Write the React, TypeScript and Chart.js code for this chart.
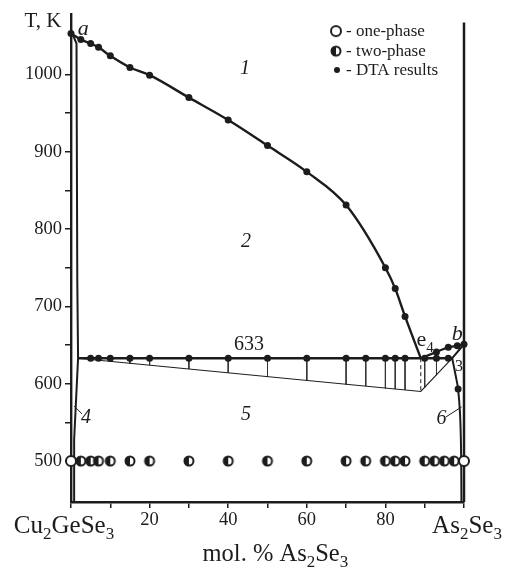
import React, { useEffect, useRef } from 'react';
import { Chart, registerables } from 'chart.js';

Chart.register(...registerables);

const FONT = '"Liberation Serif", "Times New Roman", Times, serif';
const INK = '#1c1c1c';

// ---------- axes ----------
const xMin = 0;
const xMax = 100;
const yMin = 447;
const yMax = 1078;
const xTickValues = [0, 10, 20, 30, 40, 50, 60, 70, 80, 90, 100];
const xTickLabels = ['', '', '20', '', '40', '', '60', '', '80', '', ''];
const yTickValues = [500, 550, 600, 650, 700, 750, 800, 850, 900, 950, 1000];
const yTickLabels = ['500', '', '600', '', '700', '', '800', '', '900', '', '1000'];

// ---------- liquidus (DTA) ----------
const liqX = [0, 2.5, 5, 7, 10, 15, 20, 30, 40, 50, 60, 70, 80, 82.5, 85];
const liqT = [1053, 1045, 1040, 1035, 1024, 1009, 999, 970, 941, 908, 874, 831, 750, 723, 687];
// eutectic point e4
const e4X = 89;
const e4T = 633;
// eutectic horizontal (633 K)
const eutLineX = [1.8, 97];
const eutT = 633;
const eutDtaX = [5, 7, 10, 15, 20, 30, 40, 50, 60, 70, 75, 80, 82.5, 85, 90, 93, 96];
// e4 - b liquidus
const ebX = [89, 93, 96, 98.3, 100];
const ebT = [633, 641, 647, 649, 651];
// b -> solidus corner
const bLineX = [97, 100];
const bLineT = [633, 651];
// As2Se3 solvus curve
const solvX = [97, 97.9, 98.5, 99.0, 99.25, 99.35];
const solvT = [633, 610, 593, 560, 515, 447];
const solvDtaX = [98.5];
const solvDtaT = [593];
// Cu2GeSe3 solid solution boundary
const leftX = [0.3, 1.4, 1.6, 1.8, 0.8, 0.8];
const leftT = [1053, 1040, 733, 633, 528, 447];
// tie triangle under the eutectic line
const tieX = [1.8, 89, 97];
const tieT = [633, 590, 633];
const dashX = [89, 89];
const dashT = [633, 590];
const hatchX = [5, 7, 10, 15, 20, 30, 40, 50, 60, 70, 75, 80, 82.5, 85, 90, 93];
const hatchLowT = [631, 630, 629, 626, 624, 619, 614, 609, 604, 599, 597, 594, 593, 592, 595, 611];
// As2Se3 vertical
const rightX = [100, 100];
const rightT = [447, 1067];
// leader lines for labels 4 and 6
const lead4X = [0.8, 2.8];
const lead4T = [571, 561];
const lead6X = [95.4, 99.4];
const lead6T = [557, 570];
// XRD samples at 500 K
const xrdT = 500;
const onePhaseX = [0, 100];
const twoPhaseX = [2.5, 5, 7, 10, 15, 20, 30, 40, 50, 60, 70, 75, 80, 82.5, 85, 90, 92.5, 95, 97.5];

// ---------- labels ----------
const regionLabels = ['1', '2', '5', '4', '6'];
const regionLabelX = [44.3, 44.5, 44.5, 3.8, 94.3];
const regionLabelT = [1007, 784, 560, 555.5, 555];
const pointLabels = ['a', 'b'];
const pointLabelX = [3.1, 98.3];
const pointLabelT = [1058, 663.5];
const eutLabel = '633';
const eutLabelX = 45.3;
const eutLabelT = 650;
const e4LabelX = 89.2;
const e4LabelT = 656;
const threeLabelX = 98.7;
const threeLabelT = 622;
const legendTexts = ['- one-phase', '- two-phase', '- DTA results'];

type Seg = { t: string; sub?: boolean };
const leftCompound: Seg[] = [{ t: 'Cu' }, { t: '2', sub: true }, { t: 'GeSe' }, { t: '3', sub: true }];
const rightCompound: Seg[] = [{ t: 'As' }, { t: '2', sub: true }, { t: 'Se' }, { t: '3', sub: true }];
const axisTitle: Seg[] = [{ t: 'mol. % As' }, { t: '2', sub: true }, { t: 'Se' }, { t: '3', sub: true }];

const pts = (xs: number[], ts: number[]) => xs.map((x, i) => ({ x, y: ts[i] }));
const flat = (xs: number[], t: number) => xs.map((x) => ({ x, y: t }));

function makeOpen(r: number) {
  const c = document.createElement('canvas');
  const s = Math.ceil(r * 2 + 4);
  c.width = s;
  c.height = s;
  const g = c.getContext('2d')!;
  g.fillStyle = '#fff';
  g.strokeStyle = INK;
  g.lineWidth = 2;
  g.beginPath();
  g.arc(s / 2, s / 2, r, 0, Math.PI * 2);
  g.fill();
  g.stroke();
  return c;
}

function makeHalf(r: number) {
  const c = document.createElement('canvas');
  const s = Math.ceil(r * 2 + 4);
  c.width = s;
  c.height = s;
  const g = c.getContext('2d')!;
  const cx = s / 2;
  const cy = s / 2;
  g.fillStyle = '#fff';
  g.beginPath();
  g.arc(cx, cy, r, 0, Math.PI * 2);
  g.fill();
  g.fillStyle = INK;
  g.beginPath();
  g.arc(cx, cy, r, Math.PI / 2, Math.PI * 1.5);
  g.closePath();
  g.fill();
  g.strokeStyle = INK;
  g.lineWidth = 2;
  g.beginPath();
  g.arc(cx, cy, r - 0.5, 0, Math.PI * 2);
  g.stroke();
  return c;
}

function drawRich(ctx: CanvasRenderingContext2D, segs: Seg[], x: number, baseline: number, size: number, align: 'center' | 'left') {
  const main = `${size}px ${FONT}`;
  const subSize = Math.round(size * 0.68);
  const subF = `${subSize}px ${FONT}`;
  let total = 0;
  for (const s of segs) {
    ctx.font = s.sub ? subF : main;
    total += ctx.measureText(s.t).width;
  }
  let cx = align === 'center' ? x - total / 2 : x;
  ctx.textAlign = 'left';
  ctx.textBaseline = 'alphabetic';
  for (const s of segs) {
    ctx.font = s.sub ? subF : main;
    ctx.fillText(s.t, cx, s.sub ? baseline + size * 0.25 : baseline);
    cx += ctx.measureText(s.t).width;
  }
}

export default function App() {
  const ref = useRef<HTMLCanvasElement | null>(null);

  useEffect(() => {
    document.body.style.margin = '0';
    const canvas = ref.current;
    if (!canvas) return;
    const openImg = makeOpen(5);
    const halfImg = makeHalf(5);

    const labelPlugin = {
      id: 'phaseLabels',
      afterDatasetsDraw(chart: any) {
        const { ctx, chartArea, scales } = chart;
        const px = (v: number) => scales.x.getPixelForValue(v);
        const py = (v: number) => scales.y.getPixelForValue(v);
        ctx.save();
        ctx.fillStyle = INK;
        ctx.textAlign = 'center';
        ctx.textBaseline = 'middle';
        ctx.font = `italic 20px ${FONT}`;
        regionLabels.forEach((t, i) => ctx.fillText(t, px(regionLabelX[i]), py(regionLabelT[i])));
        ctx.font = `italic 22px ${FONT}`;
        pointLabels.forEach((t, i) => ctx.fillText(t, px(pointLabelX[i]), py(pointLabelT[i])));
        ctx.font = `20px ${FONT}`;
        ctx.fillText(eutLabel, px(eutLabelX), py(eutLabelT));
        ctx.font = `16px ${FONT}`;
        ctx.fillText('3', px(threeLabelX), py(threeLabelT));
        // e4
        drawRich(ctx, [{ t: 'e' }, { t: '4', sub: true }], px(e4LabelX) - 5, py(e4LabelT) + 6, 22, 'left');
        // T, K
        ctx.font = `21px ${FONT}`;
        ctx.textAlign = 'center';
        ctx.textBaseline = 'middle';
        ctx.fillText('T, K', chartArea.left - 28, chartArea.top + 7);
        // compounds & axis title
        drawRich(ctx, leftCompound, px(xMin) - 7, chartArea.bottom + 31, 25, 'center');
        drawRich(ctx, rightCompound, px(xMax) + 3, chartArea.bottom + 31, 25, 'center');
        drawRich(ctx, axisTitle, px(52), chartArea.bottom + 59, 24.5, 'center');
        // legend
        const ix = chartArea.right - 128;
        const rows = [chartArea.top + 17, chartArea.top + 37, chartArea.top + 56];
        ctx.drawImage(openImg, ix - openImg.width / 2, rows[0] - openImg.height / 2);
        ctx.drawImage(halfImg, ix - halfImg.width / 2, rows[1] - halfImg.height / 2);
        ctx.beginPath();
        ctx.arc(ix + 1, rows[2], 3, 0, Math.PI * 2);
        ctx.fill();
        ctx.font = `17px ${FONT}`;
        ctx.textAlign = 'left';
        ctx.textBaseline = 'middle';
        legendTexts.forEach((t, i) => ctx.fillText(t, ix + 10, rows[i]));
        ctx.restore();
      },
    };

    const line = (data: any[], width: number, extra: any = {}) => ({
      data,
      showLine: true,
      borderColor: INK,
      borderWidth: width,
      pointRadius: 0,
      pointHoverRadius: 0,
      fill: false,
      clip: false,
      tension: 0,
      spanGaps: false,
      ...extra,
    });
    const dots = (data: any[]) => ({
      data,
      showLine: false,
      pointStyle: 'circle',
      pointRadius: 3.5,
      pointBackgroundColor: INK,
      pointBorderWidth: 0,
      pointHoverRadius: 3.5,
      clip: false,
    });
    const imgPts = (data: any[], img: HTMLCanvasElement) => ({
      data,
      showLine: false,
      pointStyle: img,
      pointRadius: 5,
      pointHoverRadius: 5,
      clip: false,
    });

    const hatchData: any[] = hatchX.flatMap((x, i) => [
      { x, y: eutT },
      { x, y: hatchLowT[i] },
      { x, y: null },
    ]);

    const chart = new Chart(canvas, {
      type: 'scatter',
      data: {
        datasets: [
          imgPts(flat(onePhaseX, xrdT), openImg),
          imgPts(flat(twoPhaseX, xrdT), halfImg),
          dots(pts(liqX, liqT)),
          dots(flat(eutDtaX, eutT)),
          dots(pts(ebX.slice(1), ebT.slice(1))),
          dots(pts(solvDtaX, solvDtaT)),
          line(pts([...liqX, e4X], [...liqT, e4T]), 2.4, { cubicInterpolationMode: 'monotone' }),
          line(pts(ebX, ebT), 2.2, { cubicInterpolationMode: 'monotone' }),
          line(flat(eutLineX, eutT), 2.5),
          line(pts(bLineX, bLineT), 2),
          line(pts(solvX, solvT), 2, { tension: 0.35 }),
          line(pts(leftX, leftT), 2),
          line(pts(rightX, rightT), 2.5),
          line(pts(tieX, tieT), 1.1),
          line(pts(dashX, dashT), 1, { borderDash: [4, 3] }),
          line(hatchData, 1, { borderColor: '#333' }),
          line(pts(lead4X, lead4T), 1),
          line(pts(lead6X, lead6T), 1),
        ],
      },
      options: {
        responsive: false,
        animation: false,
        events: [],
        layout: { padding: { top: 13, right: 41, left: 0, bottom: 0 } },
        plugins: { legend: { display: false }, tooltip: { enabled: false } },
        scales: {
          x: {
            type: 'linear',
            min: xMin,
            max: xMax,
            afterBuildTicks: (s: any) => {
              s.ticks = xTickValues.map((v) => ({ value: v }));
            },
            afterFit: (s: any) => {
              s.height = 67;
            },
            ticks: {
              autoSkip: false,
              maxRotation: 0,
              padding: 1,
              color: INK,
              font: { family: FONT, size: 18.5 },
              callback: (v: any) => {
                const i = xTickValues.indexOf(Number(v));
                return i >= 0 ? xTickLabels[i] : '';
              },
            },
            grid: { drawOnChartArea: false, drawTicks: true, tickLength: 6, color: INK, lineWidth: 1.5 },
            border: { display: true, color: INK, width: 2.4 },
          },
          y: {
            type: 'linear',
            min: yMin,
            max: yMax,
            afterBuildTicks: (s: any) => {
              s.ticks = yTickValues.map((v) => ({ value: v }));
            },
            afterFit: (s: any) => {
              s.width = 71;
            },
            ticks: {
              autoSkip: false,
              padding: 3,
              color: INK,
              font: { family: FONT, size: 18.5 },
              callback: (v: any) => {
                const i = yTickValues.indexOf(Number(v));
                return i >= 0 ? yTickLabels[i] : '';
              },
            },
            grid: { drawOnChartArea: false, drawTicks: true, tickLength: 6, color: INK, lineWidth: 1.5 },
            border: { display: true, color: INK, width: 2.4 },
          },
        },
      },
      plugins: [labelPlugin],
    } as any);

    return () => chart.destroy();
  }, []);

  return (
    <div style={{ width: 505, height: 569 }}>
      <canvas ref={ref} width={505} height={569} style={{ display: 'block' }} />
    </div>
  );
}
